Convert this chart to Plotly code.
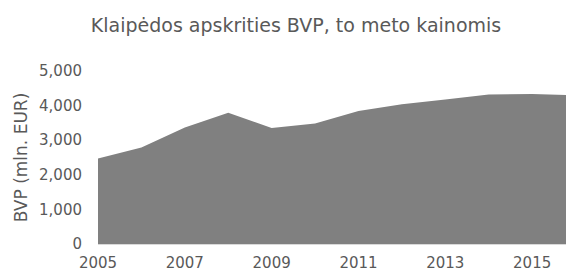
import plotly.graph_objects as go

years = [2005, 2006, 2007, 2008, 2009, 2010, 2011, 2012, 2013, 2014, 2015, 2016]
bvp = [2470, 2790, 3365, 3790, 3355, 3480, 3845, 4040, 4175, 4320, 4335, 4300]
x_ticks = [2005, 2007, 2009, 2011, 2013, 2015]
y_ticks = [0, 1000, 2000, 3000, 4000, 5000]
y_tick_labels = ["0", "1,000", "2,000", "3,000", "4,000", "5,000"]

title_text = "Klaipėdos apskrities BVP, to meto kainomis"
y_title = "BVP (mln. EUR)"

txt = "#595959"
fig = go.Figure()
fig.add_trace(go.Scatter(
    x=years, y=bvp, mode="lines", fill="tozeroy",
    line=dict(color="#808080", width=0), fillcolor="#808080",
    hoverinfo="skip", showlegend=False,
))

fig.update_layout(
    width=566, height=271,
    margin=dict(l=98, r=0, t=71, b=27, autoexpand=False),
    paper_bgcolor="white", plot_bgcolor="white",
    title=dict(text=title_text, x=0.523, xanchor="center", y=0.908, yanchor="middle",
               font=dict(family="DejaVu Sans", size=19, color=txt)),
    font=dict(family="DejaVu Sans", color=txt),
    showlegend=False,
)
fig.update_xaxes(
    range=[2005, 2015.78], tickvals=x_ticks, ticktext=[str(v) for v in x_ticks],
    showgrid=False, zeroline=False, showline=True, linecolor="#d9d9d9", linewidth=1,
    ticks="", tickfont=dict(size=15, color=txt), ticklabelstandoff=5, automargin=False,
)
fig.update_yaxes(
    range=[0, 5000], tickvals=y_ticks, ticktext=y_tick_labels,
    showgrid=False, zeroline=False, showline=False,
    ticks="", tickfont=dict(size=15, color=txt), ticklabelstandoff=15, automargin=False,
    title=dict(text=y_title, font=dict(size=17, color=txt), standoff=7),
)
fig.write_html("out.html", config={"displayModeBar": False},
               post_script="document.body.style.margin='0';document.body.style.overflow='hidden';")
